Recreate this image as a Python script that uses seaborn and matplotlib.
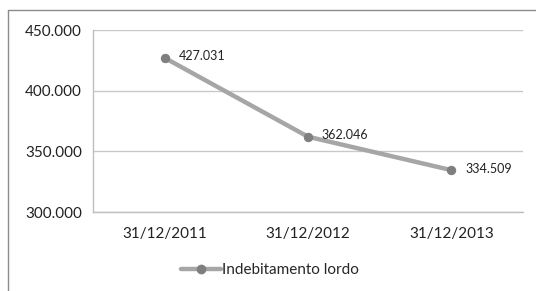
import matplotlib
matplotlib.use("Agg")
import matplotlib.pyplot as plt
import seaborn as sns
import pandas as pd
from matplotlib.lines import Line2D

categories = ["31/12/2011", "31/12/2012", "31/12/2013"]
values = [427.031, 362.046, 334.509]
value_labels = ["427.031", "362.046", "334.509"]
y_ticks = [300, 350, 400, 450]
y_tick_labels = ["300.000", "350.000", "400.000", "450.000"]
series_name = "Indebitamento lordo"

sns.set_style("white")
plt.rcParams["font.family"] = ["Lato", "DejaVu Sans"]

df = pd.DataFrame({"pos": range(len(categories)), "val": values, "cat": categories})

fig = plt.figure(figsize=(5.36, 2.91), dpi=100)
ax = fig.add_axes([93/536, 1-212/291, (523-93)/536, (212-30)/291])

line_col = "#A6A6A6"
mark_col = "#7F7F7F"
sns.lineplot(data=df, x="pos", y="val", ax=ax, color=line_col, linewidth=3.2,
             marker="o", markersize=6, markerfacecolor=mark_col, markeredgecolor=mark_col,
             legend=False)

for x, y, t in zip(df["pos"], df["val"], value_labels):
    ax.annotate(t, (x, y), xytext=(10, 1), textcoords="offset points",
                ha="left", va="center", fontsize=9, color="#222222")

ax.set_xlim(-0.5, len(categories) - 0.5)
ax.set_ylim(300, 450)
ax.set_yticks(y_ticks)
ax.set_yticklabels(y_tick_labels, fontsize=11, color="#222222")
ax.set_xticks(range(len(categories)))
ax.set_xticklabels(categories, fontsize=11, color="#222222")
ax.set_xticks([i - 0.5 for i in range(len(categories) + 1)], minor=True)
ax.tick_params(axis="x", which="major", length=0, pad=11)
ax.tick_params(axis="x", which="minor", length=4, color="#BFBFBF", width=1)
ax.tick_params(axis="y", length=4, color="#BFBFBF", width=1, pad=4)
ax.set_xlabel("")
ax.set_ylabel("")
ax.grid(axis="y", color="#C8C8C8", linewidth=1)
ax.set_axisbelow(True)
for s in ["top", "right"]:
    ax.spines[s].set_visible(False)
for s in ["left", "bottom"]:
    ax.spines[s].set_color("#BFBFBF")
    ax.spines[s].set_linewidth(1)

handle = Line2D([], [], color=line_col, linewidth=3.2, marker="o", markersize=6,
                markerfacecolor=mark_col, markeredgecolor=mark_col)
fig.legend([handle], [series_name], loc="center", bbox_to_anchor=(270/536, 1-270/291),
           frameon=False, fontsize=11, handlelength=2.6, handletextpad=0.05)

# outer chart frame (cropped: only top and left visible)
fig.add_artist(Line2D([8/536, 1], [1-10/291, 1-10/291], transform=fig.transFigure,
                      color="#8C8C8C", linewidth=1))
fig.add_artist(Line2D([8/536, 8/536], [0, 1-10/291], transform=fig.transFigure,
                      color="#8C8C8C", linewidth=1))

fig.savefig("out.png", dpi=100)
